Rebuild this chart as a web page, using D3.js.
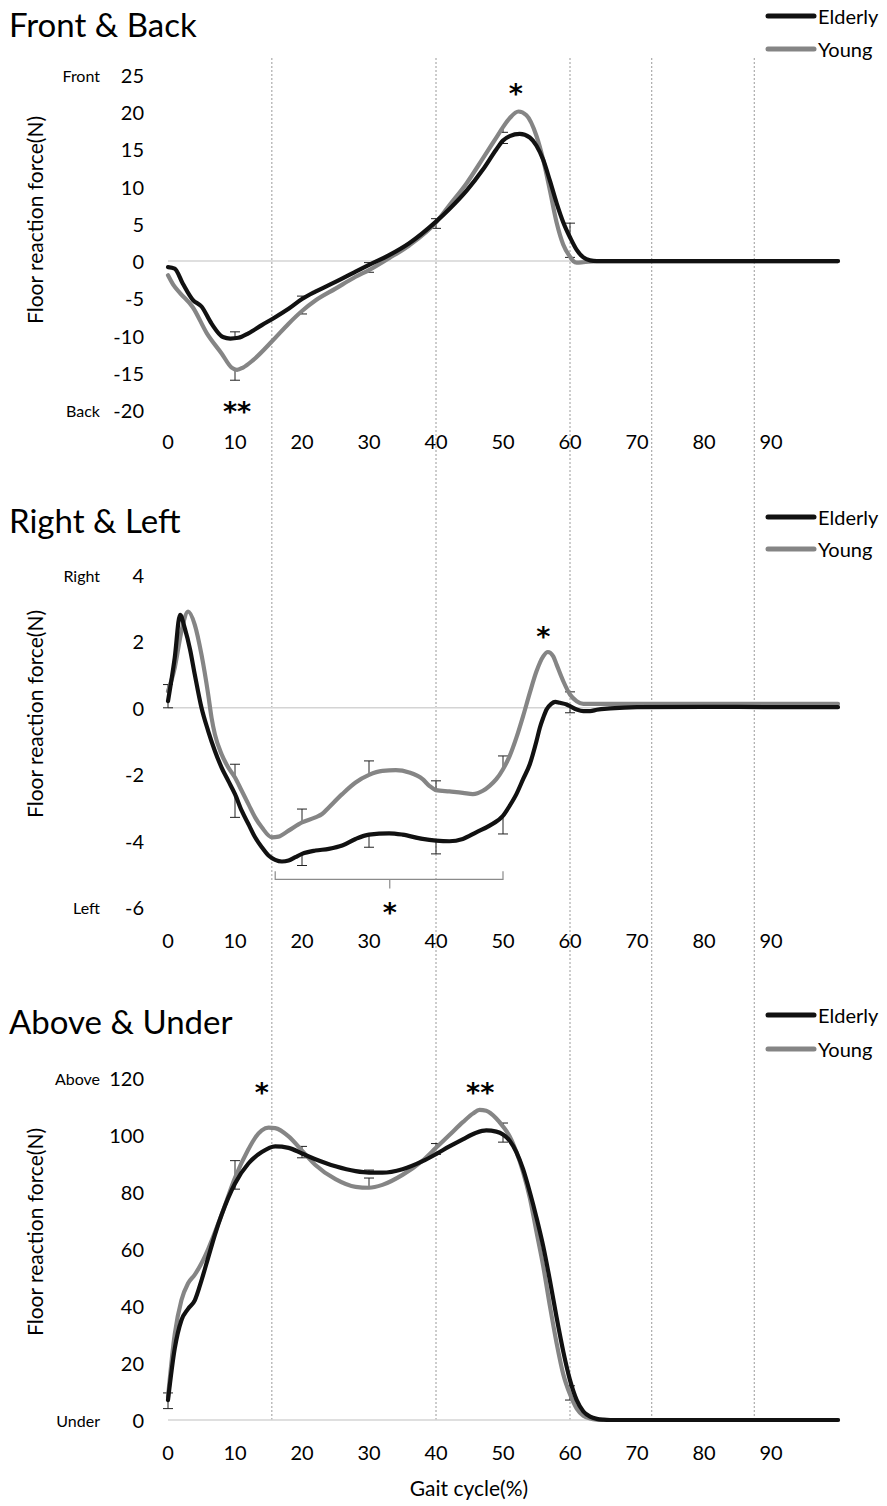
<!DOCTYPE html>
<html><head><meta charset="utf-8">
<script src="https://cdn.jsdelivr.net/npm/d3@7"></script>
<style>body{margin:0;background:#fff}svg{display:block}text{font-family:Lato,"Open Sans",sans-serif;fill:#000}</style>
</head><body>
<script>
// ---------- DATA ----------
const xTicks = [0,10,20,30,40,50,60,70,80,90];
const phaseLines = [15.5, 40, 60, 72.2, 87.5];
const seriesNames = ["Elderly","Young"];

const fbTicks = [-20,-15,-10,-5,0,5,10,15,20,25];
const fbElderly = [[0,-0.8],[1,-1],[2.2,-3],[3.7,-5.2],[5,-6.1],[6.5,-8.4],[8.2,-10.2],[9.3,-10.4],[10.5,-10.3],[12,-9.7],[14,-8.6],[15.7,-7.7],[18,-6.4],[20,-5.1],[22,-4.1],[25,-2.8],[28,-1.4],[30,-0.5],[33,0.8],[36,2.4],[40,5.3],[42,7],[44.6,9.5],[47,12.3],[49,15],[50,16.2],[51,16.8],[52.5,17.1],[54,16.6],[55,15.5],[56,13.6],[57,10.8],[58,7.8],[59,5.2],[60,3.2],[61,1.5],[62,0.5],[63,0.1],[64,0],[100,0]];
const fbYoung = [[0,-1.9],[0.8,-3.2],[1.8,-4.3],[3.7,-6.2],[5.8,-9.7],[8,-12.4],[9.5,-14.3],[10.3,-14.6],[11.2,-14.3],[12.7,-13.3],[15.7,-10.6],[18,-8.4],[20,-6.7],[22,-5.3],[25,-3.7],[28,-2.1],[30,-1.2],[33,0.4],[36,2.1],[40,5.2],[42,7.5],[44.6,10.5],[47,13.8],[49,16.6],[50,18],[51,19.2],[52.3,20.1],[53.5,19.6],[55,16.8],[56,13.6],[57,9.5],[58,5.2],[59,2.2],[60,0.6],[60.5,0],[61,-0.2],[62,-0.15],[64,0],[100,0]];
const fbErrElderly = [[10,-9.5],[20,-4.7],[30,-0.2],[40,5.7],[50,15.8],[60,5.1]];
const fbErrYoung = [[10,-16],[20,-7.1],[30,-1.5],[40,4.4],[50,17.3],[60,0.5]];
const fbStars = [["*",51.9,23.3],["**",10.3,-19.4]];

const rlTicks = [-6,-4,-2,0,2,4];
const rlElderly = [[0,0.2],[1,1.5],[1.8,2.8],[2.5,2.4],[3.3,1.75],[4,1.0],[5,0.0],[6,-0.7],[7,-1.3],[8,-1.8],[9,-2.2],[10,-2.6],[11,-3.1],[12,-3.5],[13,-3.9],[14,-4.2],[15,-4.45],[16,-4.58],[17,-4.63],[18,-4.6],[19,-4.5],[20,-4.4],[22,-4.3],[24,-4.25],[26,-4.15],[28,-3.95],[30,-3.82],[33,-3.78],[35,-3.82],[38,-3.95],[40,-4.0],[42,-4.02],[44,-3.95],[46,-3.75],[48,-3.55],[50,-3.25],[51,-2.95],[52,-2.6],[53,-2.15],[54,-1.7],[55,-1.0],[55.5,-0.6],[56,-0.3],[56.5,-0.05],[57.2,0.12],[57.8,0.18],[58.5,0.15],[59.5,0.1],[60,0.05],[61,-0.05],[62,-0.1],[63,-0.1],[64,-0.06],[66,-0.02],[70,0.02],[80,0.03],[90,0.02],[100,0.02]];
const rlYoung = [[0,0.5],[1,1.2],[2,2.3],[3,2.9],[4,2.5],[5,1.6],[6,0.4],[6.5,-0.3],[7,-0.8],[8,-1.4],[9,-1.8],[10,-2.1],[11,-2.5],[12,-2.9],[13,-3.3],[14,-3.6],[15.5,-3.9],[16.5,-3.88],[18,-3.7],[20,-3.45],[22,-3.3],[23,-3.2],[24,-3.0],[26,-2.6],[28,-2.25],[30,-2.02],[32,-1.9],[34,-1.88],[36,-1.95],[38,-2.15],[39,-2.35],[40,-2.48],[42,-2.52],[44,-2.56],[45.5,-2.6],[47,-2.5],[48,-2.35],[49,-2.15],[50,-1.85],[51,-1.45],[52,-0.9],[53,-0.25],[54,0.45],[55,1.1],[56,1.55],[56.7,1.68],[57.5,1.55],[58,1.3],[59,0.8],[60,0.4],[61,0.2],[62,0.12],[65,0.12],[100,0.12]];
const rlErrElderly = [[0,0.0],[10,-3.3],[20,-4.75],[30,-4.2],[40,-4.4],[50,-3.8],[60,-0.15]];
const rlErrYoung = [[0,0.7],[10,-1.7],[20,-3.05],[30,-1.6],[40,-2.2],[50,-1.45],[60,0.48]];
const rlStars = [["*",56.0,2.31],["*",33.1,-6.0]];
const rlBracket = [16, 50, 33.1, -5.17, -4.92, -5.44]; // x0, x1, xMid, yLine, yEnds, yMid

const auTicks = [0,20,40,60,80,100,120];
const auElderly = [[0,7],[1,25],[2,35],[3,39],[4,42],[5,49],[6,57],[7,65],[8,72],[10,83],[12,90],[14,94],[16,96],[18,95.5],[20,93.5],[22,91.5],[25,89],[28,87.3],[30,86.8],[32,86.8],[35,88],[38,90.8],[40,93.3],[42,96],[44,98.5],[46,100.8],[47.5,101.6],[49,101.2],[50,100.2],[51,98],[52,94],[53,88],[54,80],[55,71],[56,61],[57,49],[58,36],[59,24],[60,14],[61,7],[62,3],[63,1.2],[64,0.4],[65,0.1],[66,0],[100,0]];
const auYoung = [[0,8],[1,30],[2,42],[3,48],[4,51],[5,55],[6,60],[8,72],[10,85],[12,95],[13,99],[14,101.6],[15,102.6],[16,102.4],[18,99.5],[20,94.5],[22,89.5],[25,84.5],[28,81.8],[30,81.5],[32,82.5],[35,86],[38,91],[40,95.5],[42,100],[44,104.5],[45.5,107.5],[46.5,108.8],[47.5,108.5],[49,105.8],[50,103],[51,99.5],[52,94],[53,87],[54,78],[55,66],[56,54],[57,40],[58,27],[59,16],[60,9],[61,4],[62,1.5],[63,0.5],[64,0.1],[65,0],[100,0]];
const auErrElderly = [[0,4],[10,81],[20,96],[30,87.7],[40,93.2],[50,97.5],[60,12]];
const auErrYoung = [[0,9.5],[10,91],[20,92],[30,84.9],[40,97],[50,104.2],[60,7]];
const auStars = [["*",14.0,116.8],["**",46.6,117]];

// ---------- LAYOUT ----------
const W = 887, H = 1506;
const svg = d3.select("body").append("svg").attr("width", W).attr("height", H);
const x = d3.scaleLinear().domain([0,100]).range([168,838]);
const colors = {Elderly:"#111111", Young:"#858585"};

const panels = [
  {title:"Front & Back", titleY:37, legY:[16,49], ticks:fbTicks, yr:[410,75], dom:[-20,25],
   top:"Front", bottom:"Back", xLabY:441, ytY:220, series:[fbElderly,fbYoung], errs:[fbErrElderly,fbErrYoung], stars:fbStars},
  {title:"Right & Left", titleY:533, legY:[517,549], ticks:rlTicks, yr:[907,575], dom:[-6,4],
   top:"Right", bottom:"Left", xLabY:940, ytY:714, series:[rlElderly,rlYoung], errs:[rlErrElderly,rlErrYoung], stars:rlStars, bracket:rlBracket},
  {title:"Above & Under", titleY:1034, legY:[1015,1049], ticks:auTicks, yr:[1420,1078], dom:[0,120],
   top:"Above", bottom:"Under", xLabY:1452, ytY:1232, series:[auElderly,auYoung], errs:[auErrElderly,auErrYoung], stars:auStars}
];

// linear interpolation of a series at xv (to anchor error bars on the mean curve)
function valueAt(ser, xv) {
  const i = d3.bisector(d=>d[0]).left(ser, xv);
  if (i <= 0) return ser[0][1];
  if (i >= ser.length) return ser[ser.length-1][1];
  const a = ser[i-1], b = ser[i];
  if (b[0] === xv) return b[1];
  return a[1] + (b[1]-a[1]) * (xv-a[0]) / (b[0]-a[0]);
}

// global phase lines
svg.append("g").selectAll("line").data(phaseLines).join("line")
  .attr("x1", d=>x(d)).attr("x2", d=>x(d)).attr("y1", 58).attr("y2", 1420)
  .attr("stroke", "#9a9a9a").attr("stroke-width", 1).attr("stroke-dasharray", "2,2");

panels.forEach(p => {
  const y = d3.scaleLinear().domain(p.dom).range(p.yr);
  const g = svg.append("g");
  g.append("text").attr("x", 9).attr("y", p.titleY).attr("font-size", 33).text(p.title);
  g.append("line").attr("x1", x(0)).attr("x2", x(100)).attr("y1", y(0)).attr("y2", y(0))
    .attr("stroke", "#d4d4d4").attr("stroke-width", 1.5);
  g.selectAll(".yt").data(p.ticks).join("text")
    .attr("x", 144).attr("y", d=>y(d)).attr("text-anchor","end").attr("dominant-baseline","central")
    .attr("font-size", 20).text(d=>d);
  g.selectAll(".xt").data(xTicks).join("text")
    .attr("x", d=>x(d)).attr("y", p.xLabY).attr("text-anchor","middle").attr("dominant-baseline","central")
    .attr("font-size", 20).text(d=>d);
  g.append("text").attr("x", 100).attr("y", y(p.dom[1])).attr("text-anchor","end").attr("dominant-baseline","central").attr("font-size", 16).text(p.top);
  g.append("text").attr("x", 100).attr("y", y(p.dom[0])).attr("text-anchor","end").attr("dominant-baseline","central").attr("font-size", 16).text(p.bottom);
  g.append("text").attr("transform", `translate(34,${p.ytY}) rotate(-90)`).attr("text-anchor","middle")
    .attr("dominant-baseline","central").attr("font-size", 21).text("Floor reaction force(N)");
  // error bars
  p.errs.forEach((errs, si) => {
    const ser = p.series[si];
    errs.forEach(e => {
      const m = valueAt(ser, e[0]);
      g.append("line").attr("x1", x(e[0])).attr("x2", x(e[0])).attr("y1", y(m)).attr("y2", y(e[1]))
        .attr("stroke", "#222").attr("stroke-width", 1);
      g.append("line").attr("x1", x(e[0])-5).attr("x2", x(e[0])+5).attr("y1", y(e[1])).attr("y2", y(e[1]))
        .attr("stroke", "#222").attr("stroke-width", 1);
    });
  });
  const line = d3.line().x(d=>x(d[0])).y(d=>y(d[1])).curve(d3.curveMonotoneX);
  [1,0].forEach(si => {
    g.append("path").attr("d", line(p.series[si])).attr("fill","none")
      .attr("stroke", colors[seriesNames[si]]).attr("stroke-width", 4.2)
      .attr("stroke-linejoin","round").attr("stroke-linecap","round");
  });
  if (p.bracket) {
    const b = p.bracket;
    g.append("path").attr("d",
      `M${x(b[0])},${y(b[4])}L${x(b[0])},${y(b[3])}L${x(b[1])},${y(b[3])}L${x(b[1])},${y(b[4])}M${x(b[2])},${y(b[3])}L${x(b[2])},${y(b[5])}`)
      .attr("fill","none").attr("stroke","#8a8a8a").attr("stroke-width",1.2);
  }
  p.stars.forEach(s => {
    const t = g.append("text").attr("x", x(s[1])).attr("y", y(s[2])).attr("text-anchor","middle")
      .style("font-family","'DejaVu Sans',sans-serif").attr("font-size", 27).attr("font-weight","bold").text(s[0]);
    const bb = t.node().getBBox();
    t.attr("y", y(s[2]) + (y(s[2]) - (bb.y + bb.height*0.32)));
  });
  seriesNames.forEach((n, i) => {
    g.append("line").attr("x1", 768).attr("x2", 814).attr("y1", p.legY[i]).attr("y2", p.legY[i])
      .attr("stroke", colors[n]).attr("stroke-width", 5).attr("stroke-linecap","round");
    g.append("text").attr("x", 818).attr("y", p.legY[i]).attr("dominant-baseline","central")
      .attr("font-size", 20).text(n);
  });
});

svg.append("text").attr("x", 469).attr("y", 1487).attr("text-anchor","middle").attr("dominant-baseline","central")
  .attr("font-size", 21).text("Gait cycle(%)");
</script>
</body></html>
